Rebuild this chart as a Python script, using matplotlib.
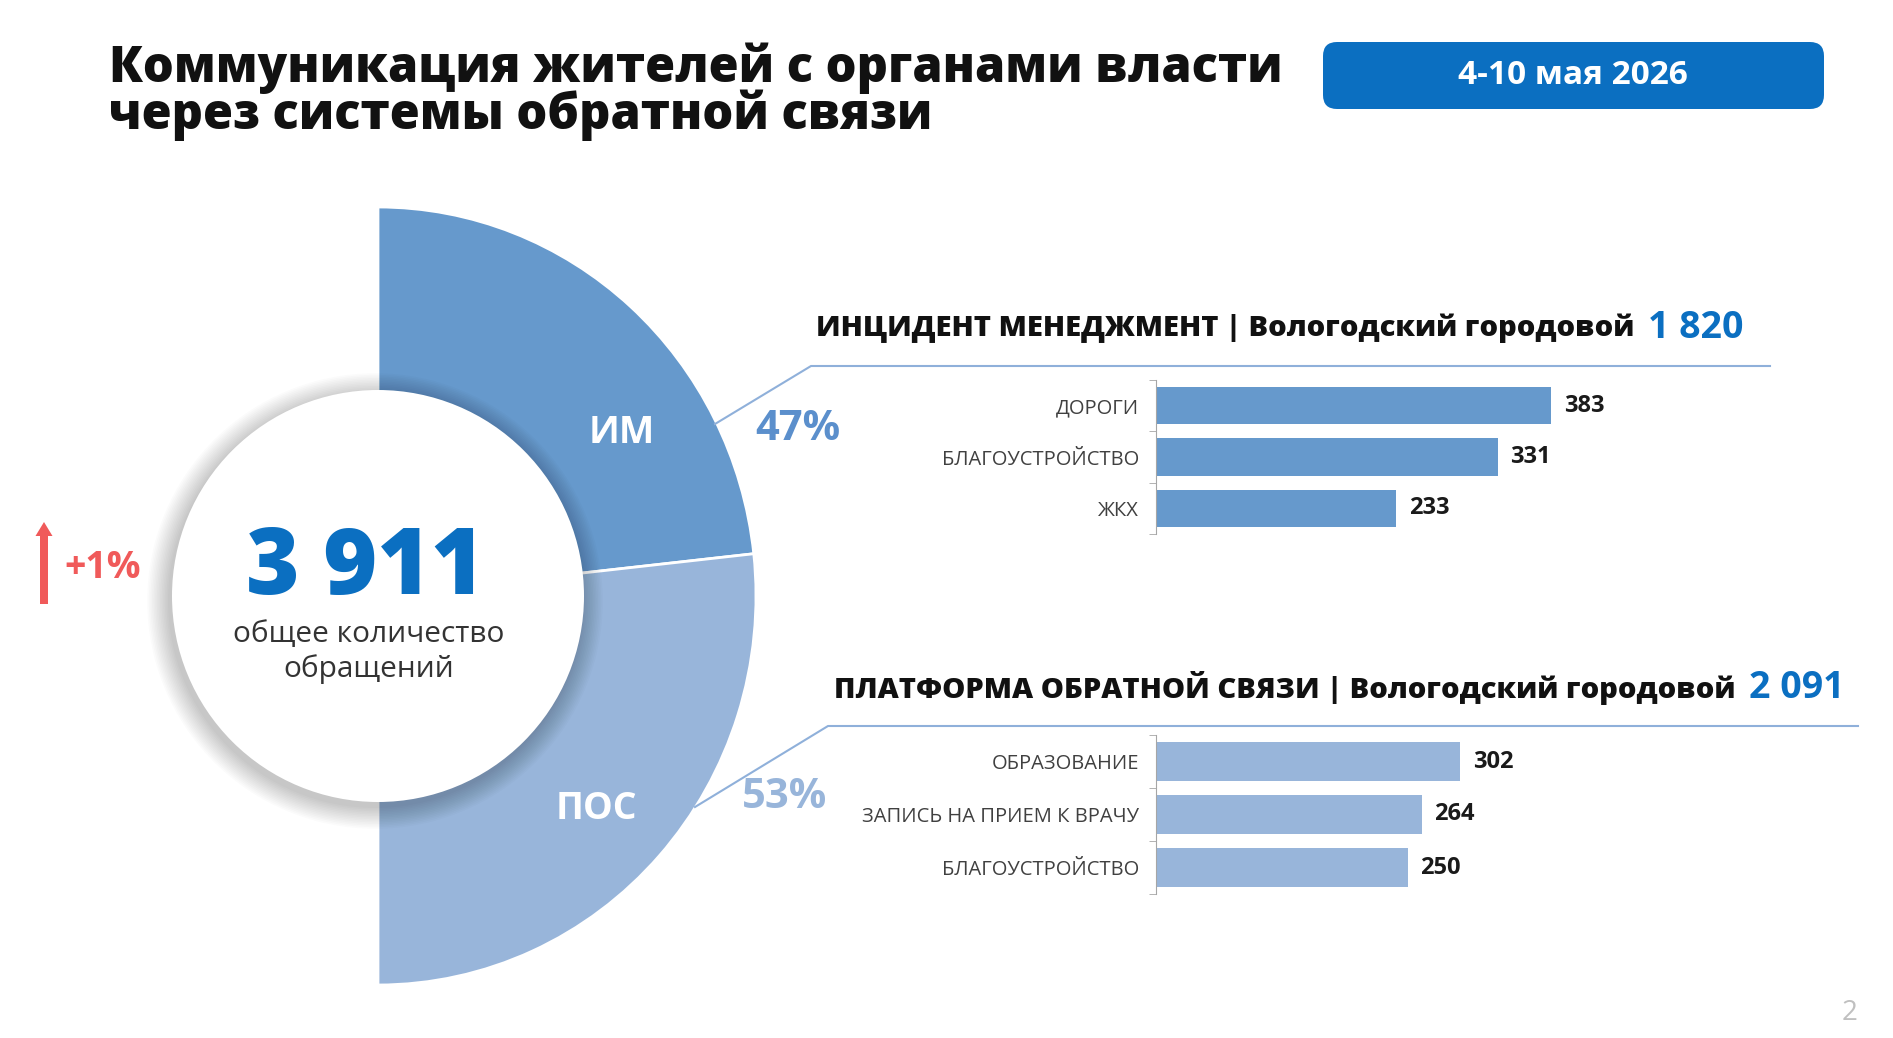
import matplotlib

matplotlib.use("Agg")
import matplotlib.pyplot as plt
from matplotlib.patches import Circle, FancyArrow, FancyBboxPatch

plt.rcParams["font.family"] = ["Open Sans", "DejaVu Sans"]

TITLE_LINES = ["Коммуникация жителей с органами власти", "через системы обратной связи"]
PERIOD = "4-10 мая 2026"
TOTAL = 3911
TOTAL_LABEL = "3 911"
TOTAL_CAPTION = "общее количество\nобращений"
GROWTH = "+1%"
SEGMENT_LABELS = ["ИМ", "ПОС"]
SEGMENT_VALUES = [1820, 2091]
SEGMENT_SHARES = ["47%", "53%"]
IM_HEADER = "ИНЦИДЕНТ МЕНЕДЖМЕНТ | Вологодский городовой"
IM_TOTAL = "1 820"
IM_CATEGORIES = ["ДОРОГИ", "БЛАГОУСТРОЙСТВО", "ЖКХ"]
IM_VALUES = [383, 331, 233]
POS_HEADER = "ПЛАТФОРМА ОБРАТНОЙ СВЯЗИ | Вологодский городовой"
POS_TOTAL = "2 091"
POS_CATEGORIES = ["ОБРАЗОВАНИЕ", "ЗАПИСЬ НА ПРИЕМ К ВРАЧУ", "БЛАГОУСТРОЙСТВО"]
POS_VALUES = [302, 264, 250]
PAGE_NUMBER = "2"

W, H = 1893, 1038
BLUE = "#0b6fc1"
IM_COLOR = "#6699cc"
POS_COLOR = "#98b5da"
LINE_COLOR = "#8fb0da"
RED = "#f05a5a"


def px_axes(fig, left, top, right, bottom):
    return fig.add_axes([left / W, 1 - bottom / H, (right - left) / W, (bottom - top) / H])


def draw_half_donut(fig):
    ax = px_axes(fig, 0, 207, 756, 985)
    values = SEGMENT_VALUES + [sum(SEGMENT_VALUES)]
    wedges, _ = ax.pie(
        values,
        startangle=90,
        counterclock=False,
        colors=[IM_COLOR, POS_COLOR, "white"],
        wedgeprops=dict(edgecolor="white", linewidth=2),
    )
    wedges[-1].set_visible(False)
    ax.set_aspect("auto")
    ax.set_xlim(-1, 1)
    ax.set_ylim(-1, 1)
    ax.axis("off")


def draw_bars(fig, box, categories, values, color, px_per_unit):
    left, top, right, bottom = box
    ax = px_axes(fig, left, top, right, bottom)
    ys = list(range(len(categories)))
    ax.barh(ys, values, height=0.73, color=color)
    ax.set_ylim(len(categories) - 0.5, -0.5)
    ax.set_xlim(0, (right - left) / px_per_unit)
    ax.set_yticks(ys)
    ax.set_yticklabels(categories, fontsize=14.5, color="#404040")
    ax.set_yticks([y - 0.5 for y in ys] + [ys[-1] + 0.5], minor=True)
    ax.tick_params(axis="y", which="major", length=0, pad=12)
    ax.tick_params(axis="y", which="minor", length=5, color="#a6a6a6")
    ax.set_xticks([])
    for side in ["top", "right", "bottom"]:
        ax.spines[side].set_visible(False)
    ax.spines["left"].set_color("#a6a6a6")
    for y, value in zip(ys, values):
        ax.annotate(
            str(value), xy=(value, y), xytext=(9, 0), textcoords="offset points",
            va="center", ha="left", fontsize=17, fontweight="bold", color="#1a1a1a",
        )
    ax.patch.set_alpha(0)


def draw_overlay(fig):
    ax = fig.add_axes([0, 0, 1, 1])
    ax.set_xlim(0, W)
    ax.set_ylim(H, 0)
    ax.axis("off")
    ax.patch.set_alpha(0)

    ax.text(109, 68, TITLE_LINES[0], fontsize=35, fontweight="heavy", color="#111111", va="center")
    ax.text(109, 115, TITLE_LINES[1], fontsize=35, fontweight="heavy", color="#111111", va="center")

    ax.add_patch(FancyBboxPatch((1323, 42), 501, 67, boxstyle="round,pad=0,rounding_size=14",
                                facecolor=BLUE, edgecolor="none"))
    ax.text(1573, 76, PERIOD, fontsize=24, fontweight="bold", color="white", ha="center", va="center")

    cx, cy, r = 378, 596, 206
    for i in range(14):
        ax.add_patch(Circle((cx - 3, cy + 5), r + 1 + i * 1.6, facecolor="#000000", alpha=0.014,
                            edgecolor="none"))
    ax.add_patch(Circle((cx, cy), r, facecolor="white", edgecolor="none"))

    ax.text(365, 570, TOTAL_LABEL, fontsize=66, fontweight="heavy", color=BLUE, ha="center", va="center")
    ax.text(369, 652, TOTAL_CAPTION, fontsize=21.5, color="#333333", ha="center", va="center",
            linespacing=1.2)

    ax.add_patch(FancyArrow(44, 604, 0, -82, width=8, head_width=17, head_length=14,
                            length_includes_head=True, color=RED, linewidth=0))
    ax.text(64, 568, GROWTH, fontsize=27, fontweight="bold", color=RED, ha="left", va="center")

    ax.text(622, 433, SEGMENT_LABELS[0], fontsize=27, fontweight="bold", color="white",
            ha="center", va="center")
    ax.text(596, 809, SEGMENT_LABELS[1], fontsize=27, fontweight="bold", color="white",
            ha="center", va="center")
    ax.text(798, 430, SEGMENT_SHARES[0], fontsize=30, fontweight="bold", color="#5b8fcc",
            ha="center", va="center")
    ax.text(785, 797, SEGMENT_SHARES[1], fontsize=30, fontweight="bold", color=POS_COLOR,
            ha="center", va="center")

    ax.plot([715, 811, 1770], [424, 366, 366], color=LINE_COLOR, linewidth=1.5)
    ax.plot([695, 828, 1858], [807, 726, 726], color=LINE_COLOR, linewidth=1.5)

    for x, y, header, total in [(816, 328, IM_HEADER, IM_TOTAL), (834, 688, POS_HEADER, POS_TOTAL)]:
        t = ax.text(x, y, header, fontsize=21, fontweight="heavy", color="#111111", va="center")
        ax.annotate(total, xy=(1, 0.5), xycoords=t, xytext=(10, 0), textcoords="offset points",
                    fontsize=27, fontweight="bold", color=BLUE, va="center", ha="left")

    ax.text(1850, 1013, PAGE_NUMBER, fontsize=20, color="#c0c0c0", ha="center", va="center")


def main() -> None:
    fig = plt.figure(figsize=(W / 100, H / 100), dpi=100)
    fig.patch.set_facecolor("white")
    draw_half_donut(fig)
    draw_bars(fig, (1156, 380, 1753, 534), IM_CATEGORIES, IM_VALUES, IM_COLOR, 1.032)
    draw_bars(fig, (1156, 735, 1753, 894), POS_CATEGORIES, POS_VALUES, POS_COLOR, 1.0075)
    draw_overlay(fig)
    fig.savefig("out.png", dpi=100)
    plt.close(fig)


if __name__ == "__main__":
    main()
